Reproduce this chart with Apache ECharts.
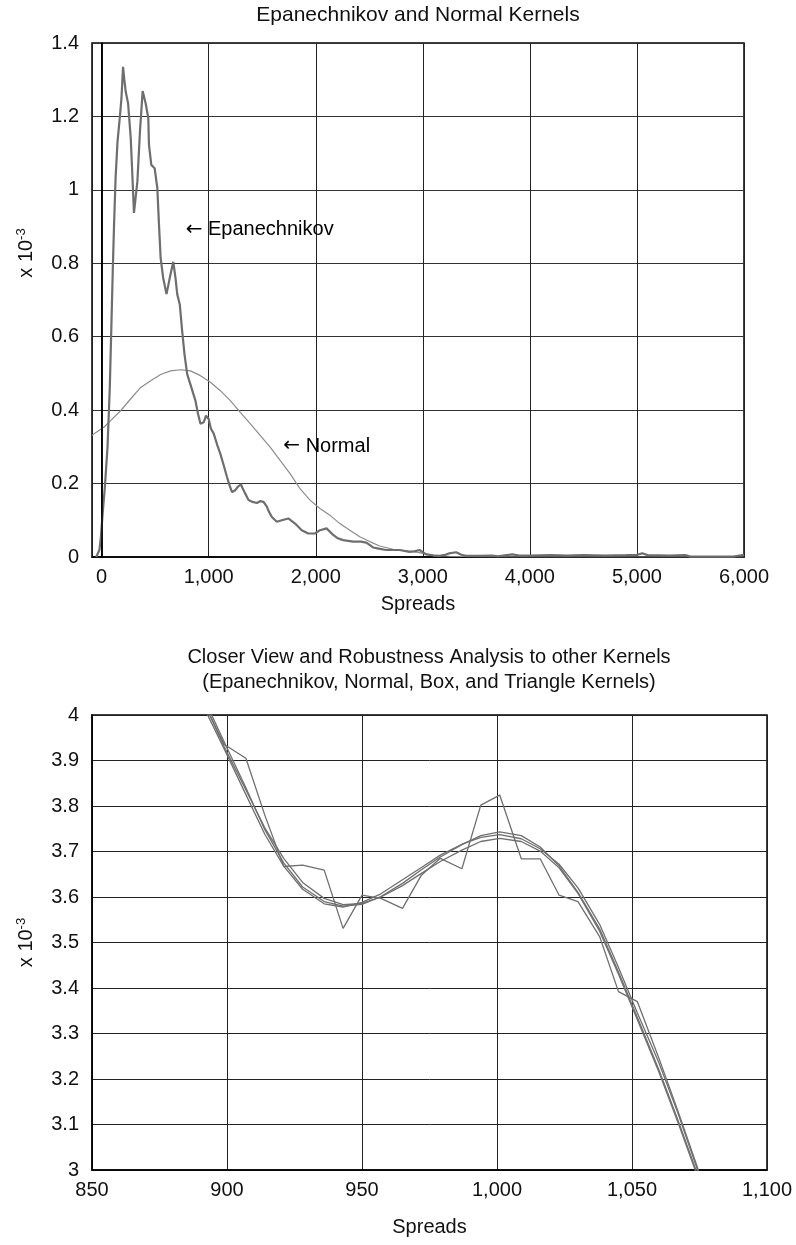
<!DOCTYPE html>
<html>
<head>
<meta charset="utf-8">
<script src="https://cdn.jsdelivr.net/npm/echarts@6/dist/echarts.min.js"></script>
<style>
  html, body { margin: 0; padding: 0; background: #fff; }
  #chart { width: 796px; height: 1245px; }
</style>
</head>
<body>
<div id="chart"></div>
<script>
// top panel: density estimates over the whole range (values x10^-3)
const epaSpreads = [-50, -20, -7, 10, 30, 55, 76, 92, 104, 116, 130, 148, 172, 185, 200, 212, 225, 247, 272, 290, 302, 318, 334, 358, 383, 411, 436, 442, 464, 495, 520, 535, 551, 575, 606, 637, 669, 690, 706, 730, 752, 775, 799, 840, 876, 900, 923, 953, 975, 1000, 1020, 1047, 1080, 1109, 1140, 1171, 1195, 1218, 1248, 1275, 1301, 1320, 1341, 1372, 1410, 1450, 1480, 1512, 1543, 1560, 1590, 1636, 1683, 1744, 1807, 1869, 1930, 1993, 2039, 2101, 2163, 2200, 2256, 2349, 2420, 2473, 2535, 2600, 2660, 2783, 2876, 2930, 2969, 3031, 3100, 3155, 3210, 3248, 3311, 3360, 3404, 3528, 3650, 3700, 3837, 3900, 4000, 4200, 4350, 4500, 4700, 4900, 5000, 5050, 5100, 5300, 5450, 5500, 5900, 5960, 6000];
const epaDensity = [0, 0.02, 0.055, 0.12, 0.19, 0.30, 0.46, 0.64, 0.78, 0.905, 1.03, 1.13, 1.204, 1.249, 1.335, 1.30, 1.267, 1.236, 1.14, 1.02, 0.937, 0.98, 1.023, 1.159, 1.269, 1.236, 1.195, 1.123, 1.068, 1.059, 1.005, 0.91, 0.815, 0.76, 0.716, 0.761, 0.804, 0.76, 0.716, 0.688, 0.616, 0.55, 0.498, 0.46, 0.426, 0.39, 0.363, 0.367, 0.385, 0.376, 0.35, 0.336, 0.305, 0.281, 0.25, 0.218, 0.195, 0.177, 0.182, 0.192, 0.198, 0.185, 0.173, 0.155, 0.150, 0.147, 0.152, 0.150, 0.137, 0.125, 0.109, 0.096, 0.100, 0.105, 0.091, 0.073, 0.064, 0.064, 0.073, 0.078, 0.060, 0.052, 0.046, 0.042, 0.042, 0.039, 0.026, 0.022, 0.019, 0.019, 0.014, 0.016, 0.019, 0.007, 0.004, 0.003, 0.006, 0.010, 0.013, 0.006, 0.003, 0.003, 0.004, 0.002, 0.007, 0.004, 0.004, 0.005, 0.004, 0.005, 0.004, 0.005, 0.006, 0.010, 0.005, 0.004, 0.005, 0.001, 0.001, 0.004, 0.006];

const normSpreads = [-90, -60, 23, 86, 179, 272, 365, 458, 551, 644, 737, 830, 923, 1016, 1109, 1202, 1295, 1388, 1481, 1574, 1667, 1760, 1853, 1946, 2039, 2132, 2225, 2318, 2411, 2504, 2597, 2721, 2845, 2969, 3093, 3250, 3500, 4000, 5000, 6000];
const normDensity = [0.331, 0.338, 0.354, 0.372, 0.399, 0.431, 0.462, 0.480, 0.497, 0.507, 0.510, 0.507, 0.494, 0.476, 0.453, 0.426, 0.394, 0.363, 0.331, 0.299, 0.263, 0.227, 0.186, 0.155, 0.132, 0.114, 0.091, 0.073, 0.055, 0.042, 0.030, 0.021, 0.017, 0.012, 0.005, 0.002, 0.001, 0, 0, 0];

// annotations in the top panel: [spread, density, text]
const topNotes = [
  [785, 0.891, 'Epanechnikov'],
  [1697, 0.302, 'Normal']
];

// bottom panel: closer view, four kernels
const closeSpreads = [892, 899, 907, 914, 921, 928, 936, 943, 950, 957, 965, 972, 979, 987, 994, 1001, 1009, 1016, 1023, 1030, 1038, 1045, 1052, 1060, 1067, 1074, 1081];
const closeEpa = [4.02, 3.93, 3.835, 3.752, 3.685, 3.632, 3.597, 3.583, 3.586, 3.600, 3.625, 3.652, 3.678, 3.703, 3.722, 3.729, 3.722, 3.701, 3.664, 3.608, 3.525, 3.43, 3.33, 3.215, 3.105, 2.99, 2.87];
const closeNormal = [4.03, 3.94, 3.84, 3.748, 3.675, 3.622, 3.590, 3.580, 3.584, 3.601, 3.630, 3.660, 3.688, 3.715, 3.735, 3.743, 3.735, 3.71, 3.668, 3.61, 3.53, 3.435, 3.335, 3.22, 3.11, 2.995, 2.875];
const closeBox = [4.02, 3.935, 3.905, 3.78, 3.667, 3.670, 3.659, 3.531, 3.604, 3.597, 3.575, 3.648, 3.685, 3.662, 3.802, 3.824, 3.684, 3.684, 3.604, 3.590, 3.513, 3.392, 3.370, 3.245, 3.13, 3.01, 2.89];
const closeTriangle = [4.01, 3.925, 3.825, 3.738, 3.668, 3.617, 3.585, 3.578, 3.588, 3.607, 3.638, 3.665, 3.692, 3.716, 3.731, 3.737, 3.728, 3.706, 3.672, 3.62, 3.54, 3.445, 3.345, 3.235, 3.125, 3.005, 2.885];

const FONT = 'Liberation Sans';
const pairs = (xs, ys) => xs.map((x, i) => [x, ys[i]]);
const fmtThousands = v => Number(v).toLocaleString('en-US');

const chart = echarts.init(document.getElementById('chart'));

const supRich = { sup: { fontSize: 13, padding: [0, 0, 10, 0], fontFamily: FONT, color: '#111' } };

function closeLine(name, ys) {
  return {
    name: name,
    type: 'line',
    xAxisIndex: 1,
    yAxisIndex: 1,
    data: pairs(closeSpreads, ys),
    showSymbol: false,
    lineStyle: { color: '#6f6f6f', width: 1.3 },
    z: 3
  };
}

function yAxisName(shiftUp) {
  return {
    fontSize: 20, color: '#111', rich: supRich,
    padding: [0, 0, 0, shiftUp * 2]
  };
}

chart.setOption({
  animation: false,
  textStyle: { fontFamily: FONT, color: '#111' },
  title: [
    {
      text: 'Epanechnikov and Normal Kernels',
      left: 418, top: 5, textAlign: 'center', padding: 0,
      textStyle: { fontFamily: FONT, fontSize: 21, fontWeight: 'normal', color: '#111' }
    },
    {
      text: 'Closer View and Robustness Analysis to other Kernels\n(Epanechnikov, Normal, Box, and Triangle Kernels)',
      left: 429, top: 645, textAlign: 'center', padding: 0,
      textStyle: { fontFamily: FONT, fontSize: 20, fontWeight: 'normal', color: '#111', lineHeight: 25 }
    }
  ],
  grid: [
    { left: 92, top: 43, right: 52, height: 514, show: true, borderColor: '#000', borderWidth: 1.5 },
    { left: 92, top: 715, right: 29, height: 455, show: true, borderColor: '#000', borderWidth: 1.5 }
  ],
  xAxis: [
    {
      gridIndex: 0, type: 'value', min: -90, max: 6000, splitNumber: 6,
      name: 'Spreads', nameLocation: 'middle', nameGap: 37,
      nameTextStyle: { fontSize: 20, color: '#111' },
      axisLine: { lineStyle: { color: '#000', width: 1.5 } },
      axisTick: { show: false },
      axisLabel: { fontSize: 20, color: '#111', margin: 10, showMinLabel: false, formatter: fmtThousands },
      splitLine: { lineStyle: { color: '#222', width: 1 } }
    },
    {
      gridIndex: 1, type: 'value', min: 850, max: 1100, interval: 50,
      name: 'Spreads', nameLocation: 'middle', nameGap: 47,
      nameTextStyle: { fontSize: 20, color: '#111' },
      axisLine: { lineStyle: { color: '#000', width: 1.5 } },
      axisTick: { show: false },
      axisLabel: { fontSize: 20, color: '#111', margin: 10, formatter: fmtThousands },
      splitLine: { lineStyle: { color: '#222', width: 1 } }
    }
  ],
  yAxis: [
    {
      gridIndex: 0, type: 'value', min: 0, max: 1.4, interval: 0.2,
      name: 'x 10{sup|-3}', nameLocation: 'middle', nameGap: 54, nameRotate: 90,
      nameTextStyle: yAxisName(47),
      axisLine: { lineStyle: { color: '#000', width: 1.5 } },
      axisTick: { show: false },
      axisLabel: { fontSize: 20, color: '#111', margin: 13 },
      splitLine: { lineStyle: { color: '#333', width: 1 } }
    },
    {
      gridIndex: 1, type: 'value', min: 3, max: 4, interval: 0.1,
      name: 'x 10{sup|-3}', nameLocation: 'middle', nameGap: 54, nameRotate: 90,
      nameTextStyle: yAxisName(0),
      axisLine: { lineStyle: { color: '#000', width: 1.5 } },
      axisTick: { show: false },
      axisLabel: { fontSize: 20, color: '#111', margin: 13 },
      splitLine: { lineStyle: { color: '#222', width: 1 } }
    }
  ],
  series: [
    {
      name: 'Normal',
      type: 'line',
      xAxisIndex: 0, yAxisIndex: 0,
      data: pairs(normSpreads, normDensity),
      showSymbol: false,
      lineStyle: { color: '#8c8c8c', width: 1.2 },
      z: 3
    },
    {
      name: 'Epanechnikov',
      type: 'line',
      xAxisIndex: 0, yAxisIndex: 0,
      data: pairs(epaSpreads, epaDensity),
      showSymbol: false,
      lineStyle: { color: '#6e6e6e', width: 2.2 },
      markLine: {
        silent: true, symbol: 'none', label: { show: false },
        lineStyle: { color: '#000', width: 1.5, type: 'solid' },
        data: [{ xAxis: 0 }]
      },
      z: 4
    },
    {
      name: 'notes',
      type: 'scatter',
      xAxisIndex: 0, yAxisIndex: 0,
      data: topNotes,
      symbolSize: 0,
      itemStyle: { opacity: 1 },
      label: {
        show: true, position: 'right', distance: 0,
        fontSize: 20, color: '#000', fontFamily: FONT,
        formatter: p => '{arr|\u2190} ' + p.data[2],
        rich: { arr: { fontFamily: 'DejaVu Sans', fontSize: 20, color: '#000' } }
      },
      emphasis: { disabled: true },
      z: 5
    },
    closeLine('Epanechnikov', closeEpa),
    closeLine('Normal', closeNormal),
    closeLine('Box', closeBox),
    closeLine('Triangle', closeTriangle)
  ]
});
</script>
</body>
</html>
